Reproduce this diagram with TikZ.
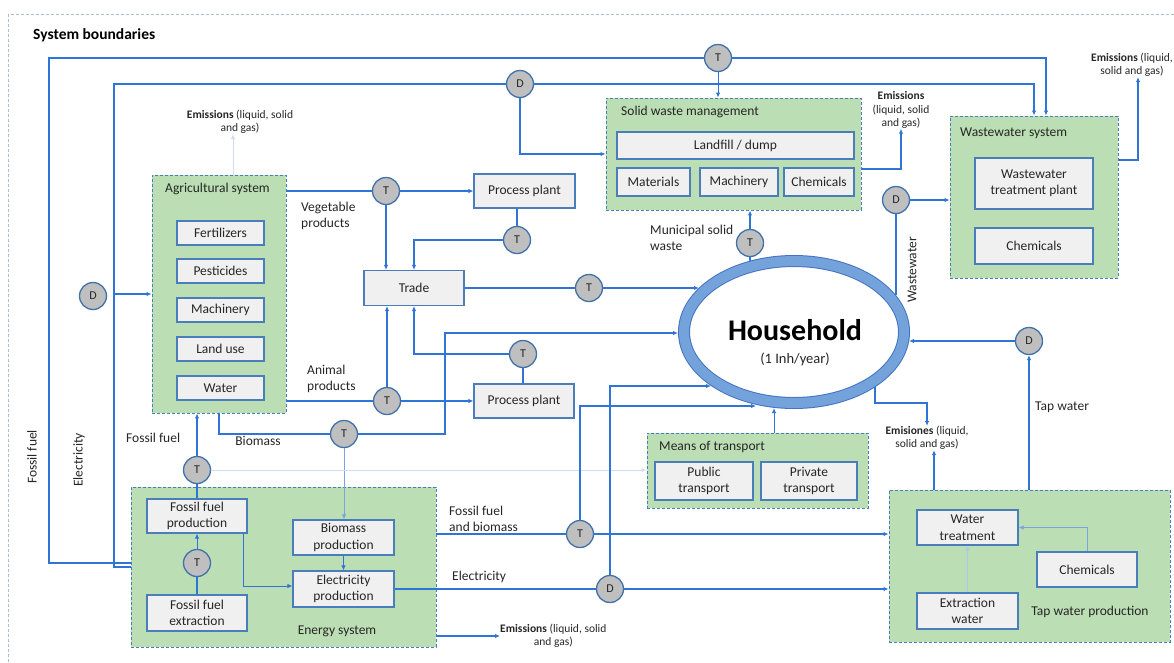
\documentclass[tikz,border=0pt]{standalone}
\usepackage{fontspec}
\setmainfont{Carlito}
\usepackage{xcolor}
\usepackage{tikz}
\usetikzlibrary{arrows.meta,positioning,shapes.geometric}
\usetikzlibrary{calc}

\definecolor{flow}{RGB}{47,117,214}
\definecolor{pale}{RGB}{205,222,242}
\definecolor{midpale}{RGB}{120,165,222}
\definecolor{boxline}{RGB}{74,126,187}
\definecolor{boxfill}{RGB}{240,240,240}
\definecolor{grpline}{RGB}{74,126,187}
\definecolor{grpfill}{RGB}{188,222,180}
\definecolor{hubline}{RGB}{65,113,170}
\definecolor{hubfill}{RGB}{191,191,191}
\definecolor{ringedge}{RGB}{68,114,196}
\definecolor{ringfill}{RGB}{116,163,219}
\definecolor{bnd}{RGB}{170,190,212}
\definecolor{txt}{RGB}{38,38,38}

\begin{document}
\begin{tikzpicture}[x=1pt, y=-1pt,
  font=\fontsize{13.5}{16.5}\selectfont, text=txt,
  grp/.style={draw=grpline, dash pattern=on 3pt off 2pt, fill=grpfill, line width=0.9pt, inner sep=0pt},
  box/.style={draw=boxline, fill=boxfill, line width=1.1pt, align=center, inner sep=1pt},
  agbox/.style={box, minimum width=87pt, minimum height=24pt},
  hub/.style={circle, draw=hubline, fill=hubfill, line width=1.3pt, minimum size=27pt, inner sep=0pt, font=\fontsize{12}{14}\selectfont},
  lbl/.style={align=left, inner sep=0pt},
  emi/.style={align=center, inner sep=0pt, font=\fontsize{11.5}{13.5}\selectfont},
  flowline/.style={draw=flow, line width=1.4pt},
  arr/.style={flowline, -{Latex[length=5pt,width=4.5pt]}},
  thinarr/.style={draw=flow, line width=0.9pt, -{Latex[length=5pt,width=4.5pt]}},
  palearr/.style={draw=pale, line width=1pt, -{Latex[length=5pt,width=4.5pt]}},
  midarr/.style={draw=midpale, line width=1pt, -{Latex[length=5pt,width=4.5pt]}}
]
  \useasboundingbox (0,0) rectangle (1174,662);
  \draw[draw=bnd, dash pattern=on 3pt off 2pt, line width=0.8pt] (8,14) rectangle (1185,675);
  \node[lbl, anchor=west, font=\fontsize{15.5}{18}\selectfont\bfseries, text=black] (sysb) at (33,35) {System boundaries};

  % groups
  \node[grp, minimum width=134pt, minimum height=238pt] (agri) at (219,294) {};
  \node[grp, minimum width=305pt, minimum height=160pt] (energy) at (283.5,567) {};
  \node[grp, minimum width=255pt, minimum height=112pt] (swm) at (733.5,154) {};
  \node[grp, minimum width=168pt, minimum height=162pt] (wws) at (1034,197) {};
  \node[grp, minimum width=221pt, minimum height=75pt] (transport) at (757.5,470.5) {};
  \node[grp, minimum width=281pt, minimum height=152pt] (tapprod) at (1029.5,566) {};

  \node[lbl, anchor=west] (agrit) at (165,189) {Agricultural system};
  \node[lbl, anchor=west] (swmt) at (621,112) {Solid waste management};
  \node[lbl, anchor=west] (wwst) at (960,133) {Wastewater system};
  \node[lbl, anchor=west] (transt) at (659,447) {Means of transport};
  \node[lbl] (energyt) at (337,631) {Energy system};
  \node[lbl] (tapt) at (1090,612) {Tap water production};

  % agricultural system
  \node[agbox] (fert) at (220.5,233) {Fertilizers};
  \node[agbox] (pest) at (220.5,271) {Pesticides};
  \node[agbox] (mach) at (220.5,310) {Machinery};
  \node[agbox] (land) at (220.5,349) {Land use};
  \node[agbox] (water) at (220.5,388) {Water};

  % middle column
  \node[box, minimum width=101pt, minimum height=34pt] (pp1) at (524.5,191) {Process plant};
  \node[box, minimum width=100pt, minimum height=35pt] (trade) at (414,288) {Trade};
  \node[box, minimum width=100pt, minimum height=34pt] (pp2) at (524,401) {Process plant};

  % solid waste management
  \node[box, minimum width=237pt, minimum height=27pt] (landfill) at (735.5,145.5) {Landfill / dump};
  \node[box, minimum width=73pt, minimum height=28pt] (mat) at (653.5,182) {Materials};
  \node[box, minimum width=78pt, minimum height=28pt] (machsw) at (739,182) {Machinery};
  \node[box, minimum width=70pt, minimum height=28pt] (chemsw) at (819,182) {Chemicals};

  % wastewater system
  \node[box, minimum width=118pt, minimum height=51pt] (wwtp) at (1034,183.5) {Wastewater\\treatment plant};
  \node[box, minimum width=118pt, minimum height=36pt] (chemww) at (1034,246) {Chemicals};

  % means of transport
  \node[box, minimum width=98pt, minimum height=38pt] (pub) at (704,481) {Public\\transport};
  \node[box, minimum width=96pt, minimum height=38pt] (priv) at (809,481) {Private\\transport};

  % energy system
  \node[box, minimum width=100pt, minimum height=34pt] (ffprod) at (197,516) {Fossil fuel\\production};
  \node[box, minimum width=100pt, minimum height=36pt] (ffext) at (197,613) {Fossil fuel\\extraction};
  \node[box, minimum width=101pt, minimum height=35pt] (bioprod) at (343.5,537.5) {Biomass\\production};
  \node[box, minimum width=101pt, minimum height=36pt] (elecprod) at (343.5,589) {Electricity\\production};

  % tap water production
  \node[box, minimum width=101pt, minimum height=35pt] (wtreat) at (967.5,527.5) {Water\\treatment};
  \node[box, minimum width=101pt, minimum height=36pt] (extr) at (967.5,611) {Extraction\\water};
  \node[box, minimum width=100pt, minimum height=35pt] (chemtap) at (1087,569.5) {Chemicals};

  % household
  \node[ellipse, draw=ringedge, line width=1pt, double=ringfill, double distance=10pt,
        minimum width=220pt, minimum height=142pt, outer sep=6pt] (hh) at (794,332) {};
  \node[font=\fontsize{30}{32}\selectfont\bfseries, text=black] (hhtitle) at (795,330) {Household};
  \node[font=\fontsize{14.5}{16}\selectfont] (hhsub) at (795,359) {(1 Inh/year)};
  \coordinate (hhA) at (699,288);
  \coordinate (hhB) at (678,333);
  \coordinate (hhC) at (711,386);
  \coordinate (hhD) at (756,406);
  \coordinate (hhE) at (774,408);
  \coordinate (hhF) at (750,261);
  \coordinate (hhG) at (896,295);
  \coordinate (hhH) at (909,341);
  \coordinate (hhI) at (875,387);

  % transport and distribution nodes
  \node[hub] (tTop) at (718,58) {T};
  \node[hub] (dTop) at (520,84) {D};
  \node[hub] (dLeft) at (93,296) {D};
  \node[hub] (tVeg) at (386,191) {T};
  \node[hub] (tPP1) at (517,240) {T};
  \node[hub] (tTrade) at (589,288) {T};
  \node[hub] (tPP2) at (523,354) {T};
  \node[hub] (tAnim) at (387,401) {T};
  \node[hub] (tBio) at (344,434) {T};
  \node[hub] (tFF) at (197,470) {T};
  \node[hub] (tFFext) at (197,563) {T};
  \node[hub] (tFB) at (580,534) {T};
  \node[hub] (dEl) at (610,589) {D};
  \node[hub] (tMSW) at (750,243) {T};
  \node[hub] (dWW) at (896,200) {D};
  \node[hub] (dTap) at (1029,341) {D};

  % emissions
  \node[emi] (emAgri) at (240,122) {\textbf{Emissions} (liquid, solid\\and gas)};
  \node[emi] (emSwm) at (901,110) {\textbf{Emissions}\\(liquid, solid\\and gas)};
  \node[emi] (emWws) at (1132,65) {\textbf{Emissions} (liquid,\\solid and gas)};
  \node[emi] (emHh) at (927,438) {\textbf{Emisiones} (liquid,\\solid and gas)};
  \node[emi, anchor=west] (emEnergy) at (500,636) {\textbf{Emissions} (liquid, solid\\and gas)};

  % flow labels
  \node[lbl, anchor=west] (vegl) at (301,216) {Vegetable\\products};
  \node[lbl, anchor=west] (animl) at (307,379) {Animal\\products};
  \node[lbl, anchor=west] (ffl) at (126,438) {Fossil fuel};
  \node[lbl] (biol) at (258,441) {Biomass};
  \node[lbl, anchor=west] (mswl) at (650,238) {Municipal solid\\waste};
  \node[lbl, rotate=90] (wwl) at (912,270) {Wastewater};
  \node[lbl, anchor=west] (tapl) at (1035,407) {Tap water};
  \node[lbl, anchor=west] (fbl) at (449,519) {Fossil fuel\\and biomass};
  \node[lbl, anchor=west] (ell) at (452,577) {Electricity};
  \node[lbl, rotate=90] (ffvl) at (32,457) {Fossil fuel};
  \node[lbl, rotate=90] (elvl) at (79,460) {Electricity};

  % outer loops from the energy system
  \draw[flowline] (energy.west) ++(0,-4) -| (49,58) -- (tTop);
  \draw[arr] (tTop) -| ([xshift=12pt]wws.north);
  \draw[thinarr] (tTop) -- (tTop |- swm.north);
  \draw[flowline] (energy.west) -| (114,84) -- (dTop);
  \draw[arr] (dTop) -| (wws.north);
  \draw[arr] (dTop) |- (swm.west);
  \coordinate (elbr) at (114,294);
  \draw[arr] (elbr) -- (agri.west);

  % agriculture and trade
  \draw[palearr] ([xshift=14pt]agri.north) -- ([xshift=14pt]agri.north |- emAgri.south);
  \draw[flowline] (tVeg -| agri.east) -- (tVeg);
  \draw[arr] (tVeg) -- (pp1);
  \draw[arr] (tVeg) -- (tVeg |- trade.north);
  \draw[flowline] (tPP1 |- pp1.south) -- (tPP1);
  \draw[arr] (tPP1) -| (trade.north);
  \draw[flowline] (tAnim -| agri.east) -- (tAnim);
  \draw[arr] (tAnim) -- (pp2);
  \draw[arr] (tAnim) -- (tAnim |- trade.south);
  \draw[flowline] (tPP2 |- pp2.north) -- (tPP2);
  \draw[arr] (tPP2) -| (trade.south);
  \draw[flowline] (trade) -- (tTrade);
  \draw[arr] (tTrade) -- (hhA);
  \draw[flowline] (agri.south) |- (tBio);
  \draw[arr] (tBio) -- ++(101,0) |- (hhB);
  \draw[midarr] (tBio) -- (tBio |- bioprod.north);

  % energy system
  \draw[flowline] (tFF |- ffprod.north) -- (tFF);
  \draw[arr] (tFF) -- (tFF |- agri.south);
  \draw[palearr] (tFF) -- (tFF -| transport.west);
  \draw[flowline] (ffext) -- (tFFext);
  \draw[thinarr] (tFFext) -- (ffprod);
  \draw[thinarr] (bioprod) -- (elecprod);
  \draw[thinarr] ([xshift=-4pt]ffprod.south east) |- ([yshift=3pt]elecprod.west);
  \draw[flowline] (tFB -| energy.east) -- (tFB);
  \draw[arr] (tFB) -- (tFB -| tapprod.west);
  \draw[arr] (tFB) |- (hhD);
  \draw[flowline] (elecprod) -- (dEl);
  \draw[arr] (dEl) -- (dEl -| tapprod.west);
  \draw[arr] (dEl) |- (hhC);
  \draw[arr] (emEnergy.west -| energy.east) -- (emEnergy.west);

  % household outputs and inputs
  \draw[thinarr] (hhE |- transport.north) -- (hhE);
  \draw[flowline] (hhF) -- (tMSW);
  \draw[arr] (tMSW) -- (tMSW |- swm.south);
  \draw[arr] ([yshift=-15pt]swm.east) -| (emSwm.south);
  \draw[flowline] (hhG) -- (dWW);
  \draw[arr] (dWW) -- (dWW -| wws.west);
  \draw[arr] ([yshift=37pt]wws.east) -| ([xshift=6pt]emWws.south);
  \draw[arr] (hhI) -- ++(0,16) -| (emHh.north);
  \draw[arr] ([xshift=7pt]emHh.south |- tapprod.north) -- ([xshift=7pt]emHh.south);
  \draw[arr] (tapprod.north -| dTap) -- (dTap);
  \draw[arr] (dTap) -- (hhH);

  % tap water production
  \draw[palearr, draw=midpale!60] (extr) -- (wtreat);
  \draw[thinarr, draw=midpale] (chemtap.north) |- (wtreat.east);
\end{tikzpicture}
\end{document}
